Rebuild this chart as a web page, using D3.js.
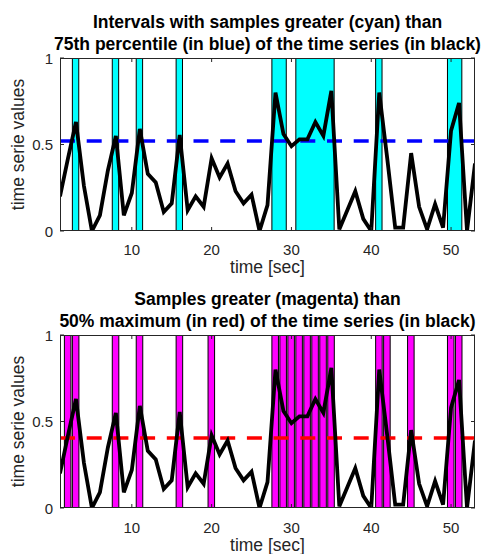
<!DOCTYPE html>
<html>
<head>
<meta charset="utf-8">
<script src="https://cdn.jsdelivr.net/npm/d3@7"></script>
<style>
  body { margin: 0; background: #fff; }
  text { font-family: "Liberation Sans", Arial, sans-serif; }
</style>
</head>
<body>
<div id="chart"></div>
<script>
// time in seconds and the series values
const times = [1,2,3,4,5,6,7,8,9,10,11,12,13,14,15,16,17,18,19,20,21,22,23,24,25,26,27,
  28,29,30,31,32,33,34,35,36,37,38,39,40,41,42,43,44,45,46,47,48,49,50,51,52,53];
const values = [0.20,0.42,0.63,0.26,0.00,0.09,0.35,0.55,0.09,0.22,0.59,0.33,0.28,0.11,0.16,0.555,
  0.12,0.20,0.14,0.42,0.31,0.39,0.23,0.16,0.21,0.00,0.15,0.80,0.56,0.49,0.53,0.53,0.63,0.55,0.81,
  0.01,0.12,0.23,0.07,0.00,0.80,0.42,0.02,0.02,0.45,0.14,0.01,0.155,0.02,0.58,0.74,0.00,0.39];
const percentile75 = 0.52;
const xTicks = [10, 20, 30, 40, 50];
const yTicks = [0, 0.5, 1];
const yTickLabels = ["0", "0.5", "1"];
const titleTop = ["Intervals with samples greater (cyan) than",
  "75th percentile (in blue) of the time series (in black)"];
const titleBottom = ["Samples greater (magenta) than",
  "50% maximum (in red) of the time series (in black)"];
const xLabel = "time [sec]";
const yLabel = "time serie values";

const svgWidth = 489, svgHeight = 554;
const axisColor = "#262626";

const svg = d3.select("#chart").append("svg")
  .attr("width", svgWidth)
  .attr("height", svgHeight);

const x = d3.scaleLinear().domain([1, 53]).range([60, 475]);

const series = times.map((t, i) => ({t: t, v: values[i]}));

// consecutive runs of samples above a threshold
function runsAbove(th) {
  const runs = [];
  let cur = null;
  series.forEach(d => {
    if (d.v > th) {
      if (cur) cur.end = d.t; else { cur = {start: d.t, end: d.t}; runs.push(cur); }
    } else cur = null;
  });
  return runs;
}

function drawPanel(p) {
  const y = d3.scaleLinear().domain([0, 1]).range([p.bottom, p.top]);
  const g = svg.append("g");
  const clipId = "clip" + p.id;

  g.append("clipPath").attr("id", clipId)
    .append("rect")
      .attr("x", x(1)).attr("y", y(1))
      .attr("width", x(53) - x(1)).attr("height", y(0) - y(1));

  const plot = g.append("g").attr("clip-path", "url(#" + clipId + ")");

  // highlighted intervals
  plot.selectAll("rect.hl")
    .data(p.bars)
    .enter().append("rect")
      .attr("class", "hl")
      .attr("x", d => x(d.start - 0.45))
      .attr("y", y(1))
      .attr("width", d => x(d.end + p.right) - x(d.start - 0.45))
      .attr("height", y(0) - y(1))
      .attr("fill", p.fill)
      .attr("stroke", "#000")
      .attr("stroke-width", 1);

  // threshold
  plot.append("line")
    .attr("x1", x(1)).attr("x2", x(53))
    .attr("y1", y(p.threshold)).attr("y2", y(p.threshold))
    .attr("stroke", p.dash)
    .attr("stroke-width", 3.5)
    .attr("stroke-dasharray", "15,11.7");

  // the time series
  const line = d3.line().x(d => x(d.t)).y(d => y(d.v));
  plot.append("path")
    .datum(series)
    .attr("d", line)
    .attr("fill", "none")
    .attr("stroke", "#000")
    .attr("stroke-width", 3.8);

  // box
  g.append("rect")
    .attr("x", x(1) + 0.5).attr("y", y(1) + 0.5)
    .attr("width", x(53) - x(1) - 1).attr("height", y(0) - y(1) - 1)
    .attr("fill", "none")
    .attr("stroke", axisColor)
    .attr("stroke-width", 1);

  // ticks (inward, on both sides)
  xTicks.forEach(t => {
    g.append("line").attr("x1", x(t)).attr("x2", x(t))
      .attr("y1", y(0)).attr("y2", y(0) - 4).attr("stroke", axisColor);
    g.append("line").attr("x1", x(t)).attr("x2", x(t))
      .attr("y1", y(1)).attr("y2", y(1) + 4).attr("stroke", axisColor);
    g.append("text")
      .attr("x", x(t)).attr("y", p.tickBase)
      .attr("text-anchor", "middle")
      .attr("font-size", "15px")
      .attr("fill", axisColor)
      .text(t);
  });
  yTicks.forEach((t, i) => {
    g.append("line").attr("x1", x(1)).attr("x2", x(1) + 4)
      .attr("y1", y(t)).attr("y2", y(t)).attr("stroke", axisColor);
    g.append("line").attr("x1", x(53)).attr("x2", x(53) - 4)
      .attr("y1", y(t)).attr("y2", y(t)).attr("stroke", axisColor);
    g.append("text")
      .attr("x", 53).attr("y", y(t) + 5.5)
      .attr("text-anchor", "end")
      .attr("font-size", "15px")
      .attr("fill", axisColor)
      .text(yTickLabels[i]);
  });

  // labels
  g.append("text")
    .attr("x", (x(1) + x(53)) / 2).attr("y", p.labelBase)
    .attr("text-anchor", "middle")
    .attr("font-size", "17.5px")
    .attr("fill", axisColor)
    .text(xLabel);

  g.append("text")
    .attr("transform", "translate(24," + (y(0) + y(1)) / 2 + ") rotate(-90)")
    .attr("text-anchor", "middle")
    .attr("font-size", "17.5px")
    .attr("fill", axisColor)
    .text(yLabel);

  // title
  p.title.forEach((s, i) => {
    g.append("text")
      .attr("x", (x(1) + x(53)) / 2).attr("y", p.titleBase[i])
      .attr("text-anchor", "middle")
      .attr("font-size", "17.5px")
      .attr("font-weight", "bold")
      .attr("fill", "#000")
      .text(s);
  });
}

// top panel: merged intervals above the 75th percentile
drawPanel({
  id: 1, top: 58, bottom: 231,
  threshold: percentile75,
  bars: runsAbove(percentile75), right: 0.35,
  fill: "#00ffff", dash: "#0000ff",
  title: titleTop, titleBase: [28, 49.5],
  tickBase: 255, labelBase: 273
});

// bottom panel: every sample above half of the maximum
const halfMax = 0.5 * d3.max(values);
drawPanel({
  id: 2, top: 335, bottom: 508,
  threshold: halfMax,
  bars: series.filter(d => d.v > halfMax).map(d => ({start: d.t, end: d.t})), right: 0.37,
  fill: "#ff00ff", dash: "#ff0000",
  title: titleBottom, titleBase: [305, 326.5],
  tickBase: 533, labelBase: 551
});
</script>
</body>
</html>
